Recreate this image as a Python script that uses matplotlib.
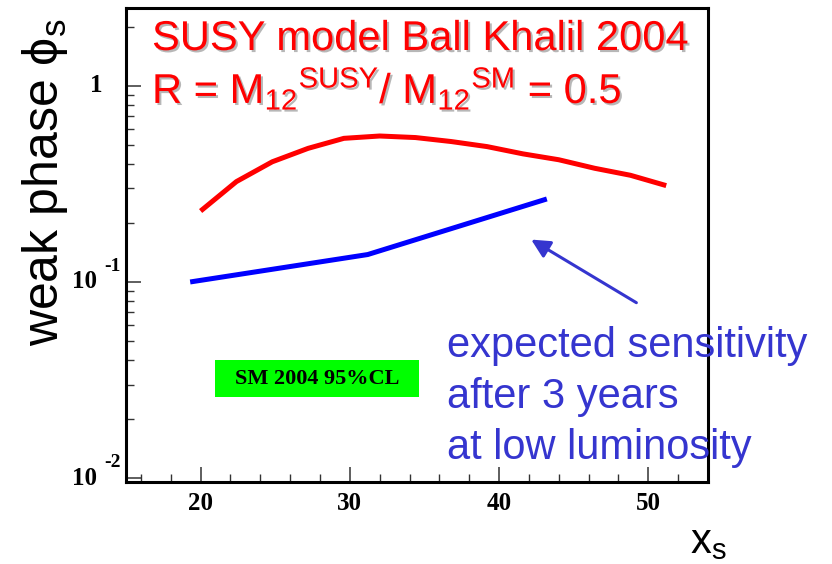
import matplotlib
matplotlib.use("Agg")
import matplotlib.pyplot as plt
import matplotlib.patheffects as pe
import matplotlib.transforms as mtransforms
from matplotlib.patches import Rectangle
from matplotlib.ticker import MultipleLocator, LogLocator, NullFormatter

# data
susy_x = [20.0, 22.4, 24.8, 27.2, 29.6, 32.0, 34.4, 36.8, 39.2, 41.6, 44.0, 46.4, 48.8, 51.2]
susy_phi = [0.23, 0.325, 0.41, 0.48, 0.54, 0.555, 0.545, 0.52, 0.49, 0.45, 0.42, 0.38, 0.35, 0.31]
sens_x = [19.3, 31.2, 43.2]
sens_phi = [0.100, 0.138, 0.265]
x_ticks = [20, 30, 40, 50]

BLUE_TXT = "#3535cf"
SANS = ["Liberation Sans", "DejaVu Sans"]
SERIF = ["Liberation Serif", "DejaVu Serif"]

fig = plt.figure(figsize=(8.32, 5.64), dpi=100)
ax = fig.add_axes([126 / 832, 1 - 482 / 564, 582 / 832, 474 / 564])

ax.plot(susy_x, susy_phi, color="#ff0000", lw=3.6, solid_capstyle="butt")
ax.plot(sens_x, sens_phi, color="#0000ff", lw=3.6, solid_capstyle="butt")

ax.set_yscale("log")
ax.set_xlim(15, 54)
ax.set_ylim(10 ** -2.02, 10 ** 0.397)

# axis styling
for s in ax.spines.values():
    s.set_linewidth(2.2)
ax.xaxis.set_major_locator(MultipleLocator(10))
ax.xaxis.set_minor_locator(MultipleLocator(2))
ax.yaxis.set_major_locator(LogLocator(base=10))
ax.yaxis.set_minor_locator(LogLocator(base=10, subs=range(2, 10)))
ax.yaxis.set_major_formatter(NullFormatter())
ax.yaxis.set_minor_formatter(NullFormatter())
ax.tick_params(which="both", direction="in", color="#333333")
ax.tick_params(which="major", length=11, width=1.1)
ax.tick_params(which="minor", length=6, width=1.0)
ax.tick_params(axis="x", which="major", pad=7)
ax.set_xticks(x_ticks)
ax.set_xticklabels([str(t) for t in x_ticks], fontfamily=SERIF, fontweight="bold", fontsize=18)

# y tick labels in the "10 ^-n" style
yt = mtransforms.blended_transform_factory(ax.transAxes, ax.transData)
ax.text(-0.04, 1.0, "1", transform=yt, ha="right", va="center",
        fontfamily=SERIF, fontsize=18, fontweight="bold")
for val, exp in [(0.1, "-1"), (0.01, "-2")]:
    ax.text(-0.049, val, "10", transform=yt, ha="right", va="center",
            fontfamily=SERIF, fontsize=18, fontweight="bold")
    ax.text(-0.038, val, exp, ha="left", va="center",
            transform=mtransforms.offset_copy(yt, fig, x=0, y=11, units="points"),
            fontfamily=SERIF, fontsize=14, fontweight="bold")

# labels
fig.text(58 / 832, 1 - 18 / 564, "weak phase ϕ$\\mathregular{_s}$", rotation=90,
         ha="right", va="baseline", fontsize=36, fontfamily=SANS, rotation_mode="anchor")
fig.text(690 / 832, 1 - 553 / 564, "x$\\mathregular{_s}$", ha="left", va="baseline",
         fontsize=30, fontfamily=SANS)

# red model annotation with drop shadow
shadow = [pe.withSimplePatchShadow(offset=(1.5, -1.5), shadow_rgbFace="#888888", alpha=0.6)]
fig.text(152 / 832, 1 - 50 / 564, "SUSY model Ball Khalil 2004", color="#ff0000",
         fontsize=30, fontfamily=SANS, va="baseline", path_effects=shadow)
fig.text(152 / 832, 1 - 103 / 564,
         "R = M$\\mathregular{_{12}{}^{SUSY}}$/ M$\\mathregular{_{12}{}^{SM}}$ = 0.5",
         color="#ff0000", fontsize=30, fontfamily=SANS, va="baseline", path_effects=shadow)

# blue sensitivity note + arrow
for line, base in [("expected sensitivity", 357), ("after 3 years", 408), ("at low luminosity", 459)]:
    fig.text(447 / 832, 1 - base / 564, line, color=BLUE_TXT, fontsize=30,
             fontfamily=SANS, va="baseline")
ax.annotate("", xy=(42.15, 0.1645), xytext=(49.2, 0.0784),
            arrowprops=dict(arrowstyle="-|>", color=BLUE_TXT, lw=2.2, mutation_scale=28,
                            shrinkA=0, shrinkB=0))

# green SM box
ax.add_patch(Rectangle((0.1529, 0.1793), 0.3505, 0.0781, transform=ax.transAxes,
                       facecolor="#00ff00", edgecolor="none", zorder=3))
ax.text(0.328, 0.2173, "SM 2004 95%CL", transform=ax.transAxes, ha="center", va="center",
        fontfamily=SERIF, fontweight="bold", fontsize=16, zorder=4)

fig.savefig("out.png", dpi=100)
